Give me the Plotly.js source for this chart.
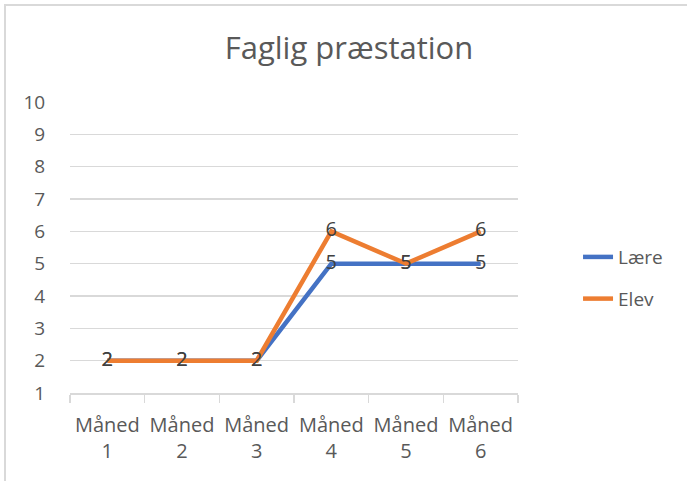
<!DOCTYPE html>
<html>
<head>
<meta charset="utf-8">
<script src="https://cdn.plot.ly/plotly-3.0.1.min.js"></script>
<style>
  html, body { margin: 0; padding: 0; background: #fff; overflow: hidden; }
  #wrap { position: relative; width: 687px; height: 481px; }
  #chart { position: absolute; left: 0; top: 0; width: 687px; height: 481px; }
  #frame { position: absolute; left: 4px; top: 4px; width: 700px; height: 500px;
           border: 2px solid #d9d9d9; box-sizing: border-box; pointer-events: none; }
</style>
</head>
<body>
<div id="wrap"><div id="chart"></div><div id="frame"></div></div>
<script>
const categories = ["Måned 1", "Måned 2", "Måned 3", "Måned 4", "Måned 5", "Måned 6"];
const tickLabels = ["Måned<br>1", "Måned<br>2", "Måned<br>3", "Måned<br>4", "Måned<br>5", "Måned<br>6"];
const laere = [2, 2, 2, 5, 5, 5];
const elev = [2, 2, 2, 6, 5, 6];
const seriesNames = ["Lære", "Elev"];

const FONT = "'Open Sans', sans-serif";
const labelFont = { family: FONT, size: 20, color: "#404040" };

const traces = [
  { x: categories, y: laere, name: seriesNames[0], type: "scatter", mode: "lines+text",
    line: { color: "#4472C4", width: 4.5 }, text: laere.map(String),
    textposition: "middle center", textfont: labelFont, legendgroup: "a", cliponaxis: false },
  { x: categories, y: elev, name: seriesNames[1], type: "scatter", mode: "lines+text",
    line: { color: "#ED7D31", width: 4.5 }, text: elev.map(String),
    textposition: "middle center", textfont: labelFont, legendgroup: "b", cliponaxis: false }
];

const layout = {
  width: 687, height: 481,
  margin: { l: 70, r: 169, t: 102, b: 88 },
  paper_bgcolor: "#fff", plot_bgcolor: "#fff",
  font: { family: FONT, size: 19, color: "#595959" },
  title: { text: "Faglig præstation", font: { family: FONT, size: 31, color: "#595959" },
           x: 0.508, xanchor: "center", y: 0.9, yanchor: "middle", yref: "container" },
  xaxis: { type: "category", range: [-0.5, 5.5], tickmode: "array", tickvals: categories, ticktext: tickLabels,
           tickson: "boundaries", ticks: "outside", ticklen: 8, tickcolor: "#d9d9d9", tickwidth: 1.5,
           ticklabelstandoff: 13,
           showline: true, linecolor: "#d9d9d9", linewidth: 1.5, showgrid: false,
           tickfont: { family: FONT, size: 20, color: "#595959" }, fixedrange: true },
  yaxis: { range: [1, 10], dtick: 1, tick0: 1, showgrid: true, gridcolor: "#d9d9d9", gridwidth: 1.5,
           zeroline: false, showline: false, ticks: "outside", ticklen: 20, tickcolor: "rgba(0,0,0,0)",
           tickfont: { family: FONT, size: 19, color: "#595959" }, fixedrange: true },
  showlegend: true,
  legend: { x: 1.134, xanchor: "left", y: 0.395, yanchor: "middle", traceorder: "grouped",
            tracegroupgap: 14, font: { family: FONT, size: 19, color: "#595959" },
            bgcolor: "rgba(0,0,0,0)" }
};

Plotly.newPlot("chart", traces, layout, { displayModeBar: false, staticPlot: true });
</script>
</body>
</html>
